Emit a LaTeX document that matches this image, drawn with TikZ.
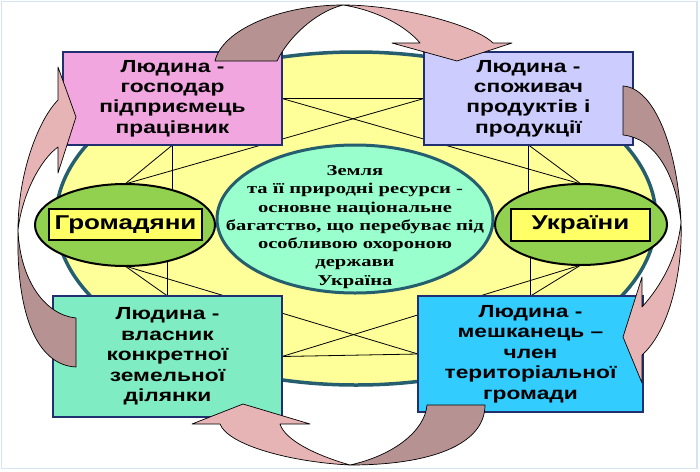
\documentclass[tikz,border=0pt]{standalone}
\usepackage{fontspec}
\usetikzlibrary{shapes.geometric,backgrounds}
\newfontfamily\boxfont[FakeStretch=1.3]{Liberation Sans}
\newfontfamily\centerfont[FakeStretch=1.37]{Liberation Serif}
\definecolor{framec}{HTML}{D6E4F2}
\definecolor{bigyellow}{HTML}{FFFF99}
\definecolor{tealedge}{HTML}{255E6E}
\definecolor{aqua}{HTML}{99FFCC}
\definecolor{greenc}{HTML}{92D050}
\definecolor{labelyellow}{HTML}{FFFF66}
\definecolor{navy}{HTML}{1F2F6F}
\definecolor{pinkbox}{HTML}{F2A6E0}
\definecolor{lavbox}{HTML}{CCCCFF}
\definecolor{mintbox}{HTML}{80ECC4}
\definecolor{cyanbox}{HTML}{33CCFF}
\definecolor{arrbrown}{HTML}{B79292}
\definecolor{arrpink}{HTML}{E6B4B4}
\tikzset{
  infobox/.style={draw=navy, line width=2.5pt, inner sep=0pt, outer sep=0pt, align=center,
    font=\boxfont\bfseries\fontsize{17.5}{20.4}\selectfont},
  greenell/.style={ellipse, draw=black, fill=greenc, line width=2pt, inner sep=0pt, outer sep=0pt},
  labelbox/.style={draw=black, fill=labelyellow, line width=2.5pt, inner sep=0pt, outer sep=0pt,
    font=\boxfont\bfseries\fontsize{20}{22}\selectfont},
  thinline/.style={draw=black, line width=0.8pt},
  arrtail/.style={fill=arrbrown, draw=black, line width=0.7pt, line join=round},
  arrhead/.style={fill=arrpink, draw=black, line width=0.7pt, line join=round}
}
\begin{document}
\begin{tikzpicture}[x=1pt,y=-1pt]
\useasboundingbox (0,0) rectangle (700,471);

% centre ellipse
\node[ellipse, draw=tealedge, fill=aqua, line width=3pt, minimum width=276pt, minimum height=148pt, inner sep=0pt] (land) at (355,219) {};
\node[align=center, font=\centerfont\bfseries\fontsize{15}{18.3}\selectfont] (landtext) at (355,227)
  {Земля\\та її природні ресурси -\\основне національне\\багатство, що перебуває під\\особливою охороною\\держави\\Україна};

% green ellipses with labels
\node[greenell, minimum width=180pt, minimum height=82pt] (gl) at (125,225) {};
\node[labelbox, minimum width=153pt, minimum height=31pt] (gll) at (125.5,224.5) {Громадяни};
\node[greenell, minimum width=172pt, minimum height=81pt] (gr) at (581,224.5) {};
\node[labelbox, minimum width=139pt, minimum height=32pt] (grl) at (580.5,225) {України};

% four boxes
\node[infobox, fill=pinkbox, minimum width=219pt, minimum height=93pt] (tl) at (172.5,98.5)
  {Людина -\\господар\\підприємець\\працівник};
\node[infobox, fill=lavbox, minimum width=209pt, minimum height=93pt] (tr) at (528.5,98.5)
  {Людина -\\споживач\\продуктів і\\продукції};
\node[infobox, fill=mintbox, minimum width=229pt, minimum height=121pt] (bl) at (167.5,356.5)
  {Людина -\\власник\\конкретної\\земельної\\ділянки};
\node[infobox, fill=cyanbox, minimum width=225pt, minimum height=116pt] (br) at (530.5,354)
  {Людина -\\мешканець –\\член\\територіальної\\громади};

\begin{scope}[on background layer]
  \fill[white] (0,0) rectangle (700,471);
  \draw[framec, line width=1.5pt] (1.5,1.5) rectangle (697,468.5);
  \node[ellipse, draw=tealedge, fill=bigyellow, line width=3.5pt, minimum width=600pt, minimum height=333pt, inner sep=0pt] (earth) at (356,218.5) {};
  % top connectors
  \draw[thinline] (tl.south) -- (tl.south |- gl.center);
  \draw[thinline] (tl.south) -- (gl.north);
  \draw[thinline] (gl.north) -- (tr.west);
  \draw[thinline] (tl.east) -- (gr.north);
  \draw[thinline] (tl.east) -- (tr.west);
  \draw[thinline] (tr.south) -- (tr.south |- gr.center);
  \draw[thinline] (tr.south) -- (gr.north);
  % bottom connectors
  \draw[thinline] (bl.north) -- (bl.north |- gl.center);
  \draw[thinline] (bl.north) -- (gl.south);
  \draw[thinline] (gl.south) -- (br.west);
  \draw[thinline] (gr.south) -- (bl.east);
  \draw[thinline] (bl.east) -- (br.west);
  \draw[thinline] (br.north) -- (br.north |- gr.center);
  \draw[thinline] (br.north) -- (gr.south);
\end{scope}

% top curved arrow
\coordinate (ptop) at (343,5);
\filldraw[arrtail] (215,61) .. controls (222,30) and (280,5) .. (ptop)
  .. controls (315,12) and (288,38) .. (277,61) -- cycle;
\filldraw[arrhead] (ptop) .. controls (400,5) and (475,25) .. (493,43) -- (512,43) -- (457,61)
  -- (392,43) -- (420,43) .. controls (405,25) and (375,10) .. (ptop) -- cycle;

% right curved arrow
\coordinate (pright) at (681,222);
\filldraw[arrtail] (623,86) .. controls (655,88) and (678,150) .. (pright)
  .. controls (676,175) and (655,138) .. (623,135) -- cycle;
\filldraw[arrhead] (pright) .. controls (683,270) and (670,330) .. (642,355) -- (642,383) -- (623,337)
  -- (642,277) -- (642,307) .. controls (662,285) and (678,255) .. (pright) -- cycle;

% bottom curved arrow
\coordinate (pbottom) at (350,465);
\filldraw[arrtail] (485,405) .. controls (485,445) and (430,465) .. (pbottom)
  .. controls (395,455) and (425,430) .. (427,405) -- cycle;
\filldraw[arrhead] (pbottom) .. controls (290,462) and (228,445) .. (220,424) -- (192,424) -- (243,404)
  -- (310,424) -- (280,424) .. controls (285,440) and (315,455) .. (pbottom) -- cycle;

% left curved arrow
\coordinate (pleft) at (18,230);
\filldraw[arrtail] (76,367) .. controls (35,365) and (16,310) .. (pleft)
  .. controls (20,280) and (45,315) .. (76,318) -- cycle;
\filldraw[arrhead] (pleft) .. controls (18,170) and (40,118) .. (58,100) -- (58,67) -- (76,117)
  -- (58,173) -- (58,147) .. controls (40,160) and (22,195) .. (pleft) -- cycle;
\end{tikzpicture}
\end{document}
